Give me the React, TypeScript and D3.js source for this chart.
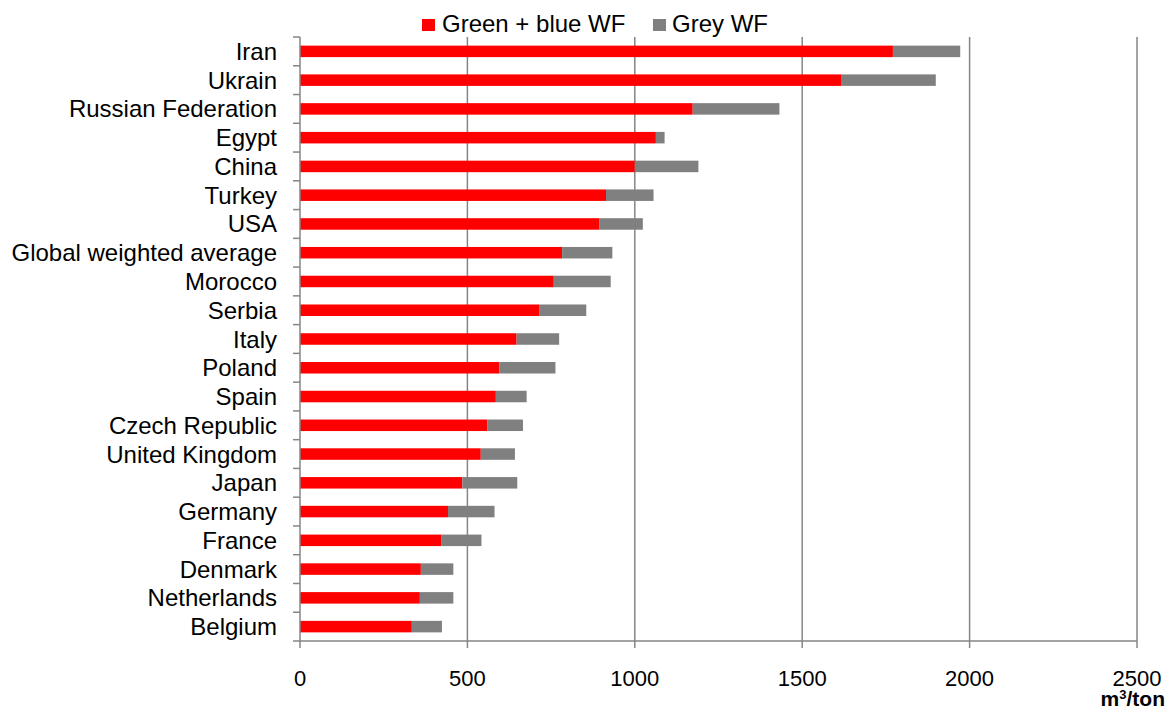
import React from "react";
import * as d3 from "d3";

const countries = ["Iran","Ukrain","Russian Federation","Egypt","China","Turkey","USA","Global weighted average","Morocco","Serbia","Italy","Poland","Spain","Czech Republic","United Kingdom","Japan","Germany","France","Denmark","Netherlands","Belgium"];
const greenBlue = [1771,1618,1173,1063,1000,914,895,783,758,714,647,595,585,560,540,485,442,423,361,358,334];
const total = [1972,1899,1432,1089,1190,1056,1024,933,928,855,774,763,677,666,642,649,581,542,458,458,424];
const xTicks = [0,500,1000,1500,2000,2500];
const seriesNames = ["Green + blue WF","Grey WF"];
const seriesColors = ["#FF0000","#808080"];

export default function App() {
  const W = 1174, H = 709;
  const left = 300, right = 1137, top = 37, bottom = 641;
  const x = d3.scaleLinear().domain([0, 2500]).range([left, right]);
  const y = d3.scaleBand<string>().domain(countries).range([top, bottom]).paddingInner(0.6).paddingOuter(0.3);
  const band = d3.scaleBand<string>().domain(countries).range([top, bottom]);
  const axisColor = "#868686";
  const font = "'Liberation Sans', Arial, sans-serif";
  return (
    <svg width={W} height={H} style={{ position: "absolute", left: 0, top: 0 }} fontFamily={font}>
      <rect width={W} height={H} fill="#fff" />
      {xTicks.slice(1).map(t => (
        <line key={"g"+t} x1={x(t)} x2={x(t)} y1={top} y2={bottom} stroke={axisColor} strokeWidth={1.5} />
      ))}
      {countries.map((c, i) => (
        <g key={c}>
          <rect x={x(0)} y={y(c)} width={x(greenBlue[i]) - x(0)} height={y.bandwidth()} fill={seriesColors[0]} />
          <rect x={x(greenBlue[i])} y={y(c)} width={x(total[i]) - x(greenBlue[i])} height={y.bandwidth()} fill={seriesColors[1]} />
          <text x={277} y={(band(c) as number) + band.bandwidth() / 2 + 8.5} textAnchor="end" fontSize={24} fill="#000">{c}</text>
        </g>
      ))}
      <line x1={left} x2={left} y1={top} y2={bottom} stroke={axisColor} strokeWidth={1.5} />
      {countries.map(c => (
        <line key={"t"+c} x1={left - 7} x2={left} y1={band(c)} y2={band(c)} stroke={axisColor} strokeWidth={1.5} />
      ))}
      <line x1={left - 7} x2={left} y1={bottom} y2={bottom} stroke={axisColor} strokeWidth={1.5} />
      <line x1={left} x2={right} y1={bottom} y2={bottom} stroke={axisColor} strokeWidth={1.5} />
      {xTicks.map(t => (
        <g key={"x"+t}>
          <line x1={x(t)} x2={x(t)} y1={bottom} y2={bottom + 7} stroke={axisColor} strokeWidth={1.5} />
          <text x={x(t)} y={686} textAnchor="middle" fontSize={22} fill="#000">{t}</text>
        </g>
      ))}
      <text x={1165} y={706} textAnchor="end" fontSize={21} fontWeight="bold" fill="#000">
        m<tspan dy={-7} fontSize={13}>3</tspan><tspan dy={7}>/ton</tspan>
      </text>
      <g>
        <rect x={422} y={19} width={13} height={12} fill={seriesColors[0]} />
        <text x={442} y={32} fontSize={24} fill="#000">{seriesNames[0]}</text>
        <rect x={653} y={19} width={13} height={12} fill={seriesColors[1]} />
        <text x={672} y={32} fontSize={24} fill="#000">{seriesNames[1]}</text>
      </g>
    </svg>
  );
}
